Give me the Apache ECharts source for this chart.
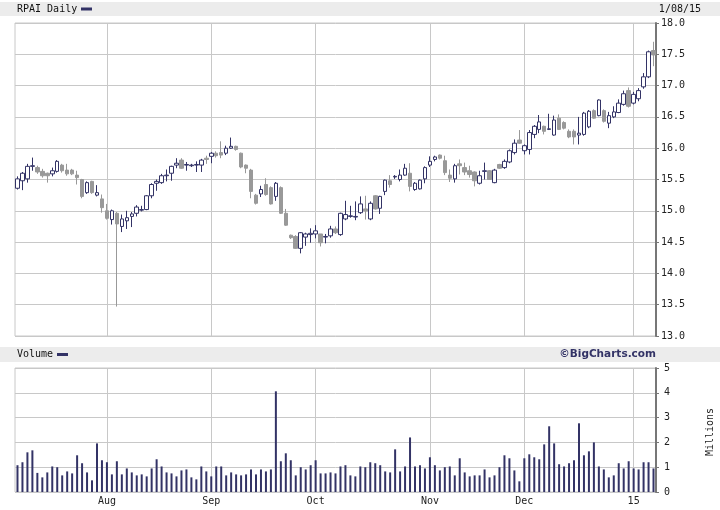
<!DOCTYPE html>
<html>
<head>
<meta charset="utf-8">
<script src="https://cdn.jsdelivr.net/npm/echarts@6/dist/echarts.min.js"></script>
<style>html,body{margin:0;padding:0;background:#fff}#c{width:720px;height:510px}</style>
</head>
<body>
<div id="c"></div>
<script>
// Trading days (day-of-month) per month
const jul14 = [8,9,10,11,14,15,16,17,18,21,22,23,24,25,28,29,30,31];
const aug14 = [1,4,5,6,7,8,11,12,13,14,15,18,19,20,21,22,25,26,27,28,29];
const sep14 = [2,3,4,5,8,9,10,11,12,15,16,17,18,19,22,23,24,25,26,29,30];
const oct14 = [1,2,3,6,7,8,9,10,13,14,15,16,17,20,21,22,23,24,27,28,29,30,31];
const nov14 = [3,4,5,6,7,10,11,12,13,14,17,18,19,20,21,24,25,26,28];
const dec14 = [1,2,3,4,5,8,9,10,11,12,15,16,17,18,19,22,23,24,26,29,30,31];
const jan15 = [2,5,6,7,8];

const tickLabels = {'2014-08-01':'Aug','2014-09-02':'Sep','2014-10-01':'Oct','2014-11-03':'Nov','2014-12-01':'Dec','2015-01-02':'15'};

const opens = [15.36,15.48,15.51,15.71,15.69,15.63,15.60,15.59,15.63,15.73,
15.65,15.65,15.57,15.50,15.29,15.47,15.25,15.19,15.00,14.86,
14.96,14.75,14.84,14.91,14.96,15.01,15.02,15.24,15.44,15.45,
15.56,15.60,15.73,15.81,15.73,15.72,15.73,15.73,15.84,15.87,
15.92,15.93,15.92,16.00,16.03,15.92,15.73,15.65,15.25,15.27,
15.42,15.37,15.23,15.37,14.96,14.61,14.59,14.40,14.58,14.62,
14.63,14.63,14.58,14.60,14.71,14.62,14.87,14.91,14.90,14.97,
15.03,14.87,15.24,15.04,15.31,15.48,15.54,15.50,15.57,15.60,
15.34,15.35,15.51,15.73,15.82,15.89,15.80,15.57,15.51,15.75,
15.69,15.64,15.62,15.44,15.63,15.64,15.45,15.74,15.69,15.78,
15.93,16.13,15.96,15.98,16.22,16.30,16.35,16.30,16.21,16.48,
16.41,16.27,16.27,16.21,16.22,16.34,16.60,16.52,16.60,16.40,
16.50,16.57,16.70,16.92,16.72,16.79,16.98,17.14,17.56];

const closes = [15.51,15.60,15.71,15.72,15.62,15.56,15.56,15.64,15.79,15.64,
15.59,15.59,15.53,15.23,15.45,15.29,15.29,15.05,14.88,15.00,
14.79,14.87,14.89,14.95,15.06,15.02,15.24,15.42,15.47,15.56,
15.57,15.71,15.76,15.68,15.74,15.73,15.74,15.81,15.82,15.92,
15.88,15.89,16.00,16.03,15.98,15.70,15.68,15.31,15.12,15.34,
15.26,15.11,15.44,14.96,14.77,14.57,14.40,14.65,14.63,14.64,
14.68,14.49,14.59,14.71,14.65,14.96,14.94,14.92,14.91,15.11,
15.00,15.12,15.03,15.23,15.49,15.42,15.55,15.57,15.68,15.39,
15.44,15.49,15.69,15.79,15.86,15.84,15.61,15.52,15.72,15.72,
15.62,15.58,15.48,15.56,15.64,15.50,15.65,15.68,15.79,15.96,
16.08,16.08,16.04,16.25,16.35,16.42,16.27,16.31,16.45,16.30,
16.32,16.18,16.18,16.24,16.56,16.59,16.48,16.77,16.43,16.52,
16.58,16.72,16.87,16.67,16.86,16.92,17.14,17.54,17.49];

const lows = [15.34,15.33,15.45,15.64,15.59,15.53,15.45,15.55,15.61,15.61,
15.56,15.57,15.42,15.20,15.27,15.27,15.23,14.97,14.86,14.78,
13.47,14.66,14.71,14.74,14.91,14.99,15.01,15.20,15.32,15.43,
15.47,15.48,15.68,15.67,15.64,15.70,15.62,15.62,15.75,15.76,
15.85,15.84,15.89,15.99,15.96,15.68,15.60,15.20,15.10,15.22,
15.24,15.10,15.16,14.95,14.76,14.55,14.39,14.32,14.44,14.49,
14.56,14.43,14.48,14.57,14.63,14.60,14.85,14.89,14.85,14.95,
14.86,14.85,15.02,14.95,15.25,15.37,15.51,15.47,15.56,15.31,
15.32,15.34,15.44,15.70,15.79,15.82,15.57,15.46,15.45,15.58,
15.57,15.53,15.39,15.42,15.50,15.50,15.44,15.67,15.67,15.76,
15.90,16.07,15.90,15.90,16.16,16.24,16.22,16.29,16.20,16.29,
16.30,16.16,16.06,16.06,16.20,16.32,16.47,16.51,16.41,16.32,
16.48,16.56,16.68,16.65,16.70,16.75,16.95,17.12,17.31];

const highs = [15.55,15.62,15.75,15.85,15.72,15.67,15.61,15.69,15.81,15.75,
15.75,15.67,15.64,15.51,15.47,15.48,15.41,15.26,15.11,15.02,
14.98,14.94,15.00,14.98,15.09,15.08,15.25,15.44,15.50,15.59,
15.66,15.72,15.84,15.84,15.78,15.75,15.79,15.83,15.88,15.94,
15.95,16.11,16.04,16.17,16.04,15.93,15.74,15.67,15.27,15.40,
15.52,15.39,15.46,15.39,15.03,14.62,14.61,14.66,14.65,14.72,
14.77,14.63,14.63,14.76,14.75,14.97,15.16,15.08,15.15,15.23,
15.24,15.15,15.25,15.24,15.50,15.57,15.57,15.66,15.75,15.76,
15.46,15.50,15.71,15.87,15.88,15.90,15.88,15.66,15.75,15.82,
15.77,15.72,15.63,15.64,15.77,15.65,15.67,15.75,15.82,15.98,
16.14,16.29,16.06,16.29,16.37,16.53,16.36,16.55,16.52,16.54,
16.43,16.30,16.30,16.50,16.58,16.61,16.62,16.78,16.62,16.58,
16.67,16.78,16.92,16.97,16.90,16.96,17.20,17.56,17.70];

// Volume in millions
const volumes = [1.08,1.2,1.6,1.68,0.77,0.59,0.79,1.03,1.0,0.67,
0.83,0.75,1.48,1.16,0.79,0.47,1.96,1.28,1.2,0.71,
1.24,0.71,0.95,0.79,0.67,0.71,0.63,0.95,1.32,1.03,
0.79,0.75,0.63,0.87,0.91,0.59,0.51,1.03,0.83,0.63,
1.03,1.03,0.67,0.79,0.71,0.67,0.71,0.91,0.71,0.91,
0.83,0.91,4.06,1.24,1.56,1.28,0.67,1.0,0.91,1.08,
1.28,0.75,0.75,0.79,0.75,1.03,1.08,0.67,0.63,1.03,
1.0,1.2,1.16,1.08,0.83,0.79,1.72,0.83,1.03,2.2,
1.03,1.08,0.95,1.4,1.08,0.87,1.0,1.03,0.67,1.36,
0.79,0.63,0.67,0.67,0.91,0.59,0.67,1.0,1.48,1.36,
0.87,0.43,1.36,1.52,1.4,1.32,1.92,2.65,1.96,1.12,
1.03,1.16,1.28,2.77,1.48,1.64,2.0,1.03,0.91,0.59,
0.67,1.16,0.95,1.24,0.95,0.91,1.2,1.2,0.95];

const pad = n => (n < 10 ? '0' : '') + n;
const months = [['2014-07', jul14], ['2014-08', aug14], ['2014-09', sep14], ['2014-10', oct14], ['2014-11', nov14], ['2014-12', dec14], ['2015-01', jan15]];
const categories = [];
months.forEach(([ym, days]) => days.forEach(d => categories.push(ym + '-' + pad(d))));

const ohlc = categories.map((c, i) => [opens[i], closes[i], lows[i], highs[i]]);
const monthCats = Object.keys(tickLabels);

const MONO = '"DejaVu Sans Mono", monospace';
const NAVY = '#333366';
const GRID = '#c8c8c8';

const vLines = {
  symbol: 'none', silent: true, animation: false, z: 1,
  label: { show: false },
  lineStyle: { color: GRID, type: 'solid', width: 1 },
  data: monthCats.map(c => ({ xAxis: c }))
};

const chart = echarts.init(document.getElementById('c'));
chart.setOption({
  animation: false,
  backgroundColor: '#fff',
  grid: [
    { left: 15, right: 64, top: 23, height: 313, show: true, borderColor: GRID, borderWidth: 1 },
    { left: 15, right: 64, top: 368, height: 124, show: true, borderColor: GRID, borderWidth: 1 }
  ],
  xAxis: [
    { type: 'category', gridIndex: 0, data: categories, boundaryGap: true,
      axisLine: { show: false }, axisTick: { show: false }, axisLabel: { show: false }, splitLine: { show: false } },
    { type: 'category', gridIndex: 1, data: categories, boundaryGap: true,
      axisLine: { show: false }, axisTick: { show: false }, splitLine: { show: false },
      axisLabel: { interval: (i, v) => v in tickLabels, formatter: v => tickLabels[v] || '',
        fontFamily: MONO, fontSize: 10, color: '#222', margin: 4 } }
  ],
  yAxis: [
    { type: 'value', gridIndex: 0, position: 'right', min: 13, max: 18, interval: 0.5,
      axisLine: { show: true, lineStyle: { color: '#777', width: 2 } },
      axisTick: { show: true, length: 3, lineStyle: { color: '#777' } },
      axisLabel: { formatter: v => v.toFixed(1), fontFamily: MONO, fontSize: 10, color: '#222', margin: 5 },
      splitLine: { show: true, lineStyle: { color: GRID, width: 1 } } },
    { type: 'value', gridIndex: 1, position: 'right', min: 0, max: 5, interval: 1,
      axisLine: { show: true, lineStyle: { color: '#777', width: 2 } },
      axisTick: { show: true, length: 3, lineStyle: { color: '#777' } },
      axisLabel: { fontFamily: MONO, fontSize: 10, color: '#222', margin: 8 },
      splitLine: { show: true, lineStyle: { color: GRID, width: 1 } } }
  ],
  series: [
    { type: 'line', xAxisIndex: 0, yAxisIndex: 0, data: [], z: 1, markLine: vLines },
    { type: 'line', xAxisIndex: 1, yAxisIndex: 1, data: [], z: 1, markLine: vLines },
    { type: 'candlestick', xAxisIndex: 0, yAxisIndex: 0, data: ohlc, barWidth: 4, z: 3,
      itemStyle: { color: '#ffffff', color0: '#999999', borderColor: NAVY, borderColor0: '#999999', borderWidth: 1 } },
    { type: 'bar', xAxisIndex: 1, yAxisIndex: 1, data: volumes, barWidth: 2, z: 3,
      itemStyle: { color: NAVY } }
  ],
  graphic: [
    { type: 'rect', shape: { x: 0, y: 2, width: 720, height: 14 }, style: { fill: '#ececec' }, z: -1 },
    { type: 'text', x: 17, y: 9.5, style: { text: 'RPAI Daily', font: '10px ' + MONO, fill: '#111', verticalAlign: 'middle' } },
    { type: 'rect', shape: { x: 81, y: 7.5, width: 11, height: 3 }, style: { fill: NAVY } },
    { type: 'text', x: 701, y: 9.5, style: { text: '1/08/15', font: '10px ' + MONO, fill: '#111', align: 'right', verticalAlign: 'middle' } },
    { type: 'rect', shape: { x: 0, y: 347, width: 720, height: 15 }, style: { fill: '#ececec' }, z: -1 },
    { type: 'text', x: 17, y: 354.5, style: { text: 'Volume', font: '10px ' + MONO, fill: '#111', verticalAlign: 'middle' } },
    { type: 'rect', shape: { x: 57, y: 353, width: 11, height: 3 }, style: { fill: NAVY } },
    { type: 'text', x: 656, y: 354.5, style: { text: '©BigCharts.com', font: 'bold 10.5px "DejaVu Sans", sans-serif', fill: NAVY, align: 'right', verticalAlign: 'middle' } },
    { type: 'text', x: 710, y: 432, rotation: Math.PI / 2, style: { text: 'Millions', font: '10px ' + MONO, fill: '#222', align: 'center', verticalAlign: 'middle' } }
  ]
});
</script>
</body>
</html>
